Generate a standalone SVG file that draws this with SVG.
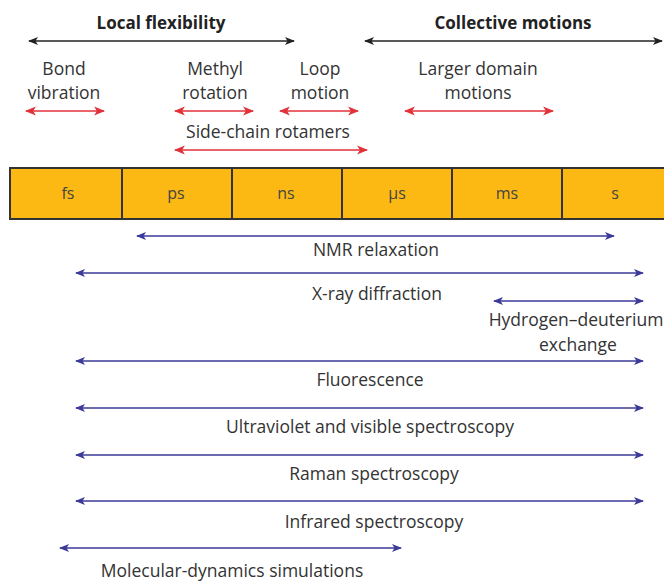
<svg xmlns="http://www.w3.org/2000/svg" width="664" height="581" viewBox="0 0 664 581">
<defs>
<marker id="hk" viewBox="0 0 10 10" refX="9" refY="5" markerWidth="10" markerHeight="10" markerUnits="userSpaceOnUse" orient="auto-start-reverse"><path d="M0,1 L10,5 L0,9 L2.5,5 Z" fill="#222"/></marker>
<marker id="hr" viewBox="0 0 10 10" refX="9" refY="5" markerWidth="11" markerHeight="11" markerUnits="userSpaceOnUse" orient="auto-start-reverse"><path d="M0,1 L10,5 L0,9 L2.5,5 Z" fill="#e3313a"/></marker>
<marker id="hb" viewBox="0 0 10 10" refX="9" refY="5" markerWidth="10" markerHeight="10" markerUnits="userSpaceOnUse" orient="auto-start-reverse"><path d="M0,1 L10,5 L0,9 L2.5,5 Z" fill="#3b3a98"/></marker>
<style>
.t{font-family:"Open Sans","Noto Sans",sans-serif;font-size:17.5px;fill:#333;text-anchor:middle}
.b{font-family:"Open Sans","Noto Sans",sans-serif;font-size:17px;font-weight:bold;fill:#222;text-anchor:middle}
.c{font-family:"Open Sans","Noto Sans",sans-serif;font-size:16px;fill:#444;text-anchor:middle}
.k{stroke:#222;stroke-width:1.5;fill:none;marker-start:url(#hk);marker-end:url(#hk)}
.r{stroke:#e3313a;stroke-width:1.5;fill:none;marker-start:url(#hr);marker-end:url(#hr)}
.bl{stroke:#3b3a98;stroke-width:1.5;fill:none;marker-start:url(#hb);marker-end:url(#hb)}
.cell{fill:#fdb913;stroke:#333;stroke-width:2}
</style>
</defs>
<rect width="664" height="581" fill="#fff"/>
<g id="connectors">
<line class="k" x1="29" y1="41" x2="294" y2="41"/>
<line class="k" x1="365" y1="41" x2="662" y2="41"/>
<line class="r" x1="26" y1="111" x2="104" y2="111"/>
<line class="r" x1="175" y1="111" x2="253" y2="111"/>
<line class="r" x1="280" y1="111" x2="358" y2="111"/>
<line class="r" x1="405" y1="111" x2="553" y2="111"/>
<line class="r" x1="175" y1="150" x2="367" y2="150"/>
<line class="bl" x1="137" y1="236" x2="614" y2="236"/>
<line class="bl" x1="76" y1="273" x2="643" y2="273"/>
<line class="bl" x1="494" y1="301" x2="643" y2="301"/>
<line class="bl" x1="76" y1="361" x2="643" y2="361"/>
<line class="bl" x1="76" y1="408" x2="643" y2="408"/>
<line class="bl" x1="76" y1="455" x2="643" y2="455"/>
<line class="bl" x1="76" y1="501" x2="643" y2="501"/>
<line class="bl" x1="60" y1="548" x2="401" y2="548"/>
</g>
<g id="local-flexibility"><text class="b" x="161" y="29">Local flexibility</text></g>
<g id="collective-motions"><text class="b" x="513" y="29">Collective motions</text></g>
<g id="bond-vibration"><text class="t" x="64" y="75">Bond</text><text class="t" x="64" y="99">vibration</text></g>
<g id="methyl-rotation"><text class="t" x="215" y="75">Methyl</text><text class="t" x="215" y="99">rotation</text></g>
<g id="loop-motion"><text class="t" x="320" y="75">Loop</text><text class="t" x="320" y="99">motion</text></g>
<g id="larger-domain"><text class="t" x="478" y="75">Larger domain</text><text class="t" x="478" y="99">motions</text></g>
<g id="side-chain"><text class="t" x="268" y="138">Side-chain rotamers</text></g>
<g id="timescale">
<rect class="cell" x="10" y="168" width="112" height="51"/>
<rect class="cell" x="122" y="168" width="110" height="51"/>
<rect class="cell" x="232" y="168" width="110" height="51"/>
<rect class="cell" x="342" y="168" width="110" height="51"/>
<rect class="cell" x="452" y="168" width="110" height="51"/>
<rect class="cell" x="562" y="168" width="110" height="51"/>
<text class="c" x="68" y="199">fs</text>
<text class="c" x="176" y="199">ps</text>
<text class="c" x="286" y="199">ns</text>
<text class="c" x="397" y="199">μs</text>
<text class="c" x="507" y="199">ms</text>
<text class="c" x="615" y="199">s</text>
</g>
<g id="nmr"><text class="t" x="376" y="256">NMR relaxation</text></g>
<g id="xray"><text class="t" x="377" y="300">X-ray diffraction</text></g>
<g id="hdx"><text class="t" x="576" y="326">Hydrogen–deuterium</text><text class="t" x="578" y="351">exchange</text></g>
<g id="fluorescence"><text class="t" x="370" y="386">Fluorescence</text></g>
<g id="uv"><text class="t" x="370" y="433">Ultraviolet and visible spectroscopy</text></g>
<g id="raman"><text class="t" x="374" y="480">Raman spectroscopy</text></g>
<g id="infrared"><text class="t" x="374" y="528">Infrared spectroscopy</text></g>
<g id="md"><text class="t" x="232" y="577">Molecular-dynamics simulations</text></g>
</svg>
